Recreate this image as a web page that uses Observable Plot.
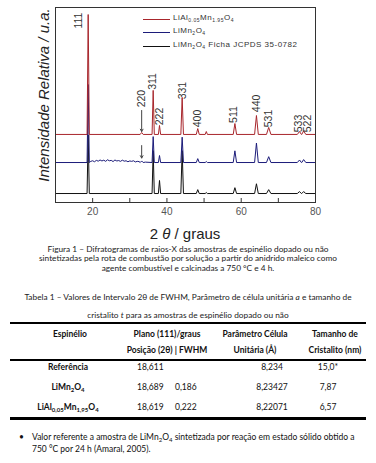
<!DOCTYPE html>
<html><head><meta charset="utf-8">
<script src="https://cdn.jsdelivr.net/npm/d3@7"></script>
<script src="https://cdn.jsdelivr.net/npm/@observablehq/plot@0.6"></script>
<style>
body{margin:0;background:#fff;}
#wrap{position:relative;width:376px;height:463px;overflow:hidden;background:#fff;font-family:"Liberation Sans",Arial,sans-serif;}
.abs{position:absolute;white-space:nowrap;}
.leg{font-size:8px;color:#333;letter-spacing:0.5px;}
.leg sub{font-size:5px;vertical-align:-2px;line-height:0;}
.cap{font-family:Lato,"Open Sans",sans-serif;font-size:8.3px;color:#222;text-align:center;width:376px;left:0;}
.tb{font-family:Lato,"Open Sans",sans-serif;font-size:8.5px;color:#111;}
.tb sub{font-size:6px;vertical-align:-2px;line-height:0;}
.hd{font-weight:bold;}
.rule{position:absolute;left:10px;width:356px;background:#000;}
</style></head><body><div id="wrap"></div>
<script>
// ---- data ----
const peakPos       = [18.8, 33.2, 36.3, 38.0, 44.1, 48.3, 50.6, 58.3, 64.1, 67.4, 75.7, 76.8];
const peakHalfWidth = [0.3,  0.4,  0.3,  0.3,  0.35, 0.4,  0.3,  0.45, 0.5,  0.6,  0.6,  0.6];
const redHeights    = [61.5, 1.0, 22.6, 4.6, 19.0, 3.0, 1.5, 5.6, 9.7, 3.6, 1.5, 1.8];
const blueHeights   = [40.0, 0.8, 13.3, 3.6, 13.0, 2.0, 0.5, 6.0, 10.0, 3.0, 1.3, 1.5];
const blackHeights  = [30.0, 0.0, 22.0, 6.7, 22.0, 2.0, 0.5, 3.0, 5.0, 2.0, 1.0, 1.0];
const redBase = 34.9, blueBase = 20.5, blackBase = 4.6;
const blueNoiseX = [19.5,20,20.5,21,21.5,22,22.5,23,23.5,24,24.5,25,25.5,26,26.5,27,27.5,28,28.5,29,29.5,30,30.5,31,31.5,32,32.5,34.2];
const blueNoiseY = [0.6,0.9,0.4,1.1,0.7,1.3,0.8,1.2,0.6,1.4,0.9,1.1,0.5,1.3,0.8,1.0,0.6,1.2,0.7,0.9,0.4,0.8,0.6,0.9,0.3,0.6,0.5,0.2];
const hklText = ["111","220","311","222","331","400","511","440","531","533","522"];
const hklX    = [16.2, 33.2, 36.1, 38.0, 44.2, 48.2, 57.9, 64.1, 67.3, 75.4, 77.8];
const hklY    = [93.3, 53.3, 62.1, 44.1, 57.4, 43.1, 45.1, 50.8, 43.1, 40.5, 40.5];
const arrowX  = [33.2, 33.2];
const arrowY1 = [47.2, 29.2];
const arrowY2 = [36.4, 22.8];
const xTicks = [20, 40, 60, 80];
const xMinor = [20, 30, 40, 50, 60, 70];
const legendNames = ["LiAl<sub>0.05</sub>Mn<sub>1.95</sub>O<sub>4</sub>", "LiMn<sub>2</sub>O<sub>4</sub>", "LiMn<sub>2</sub>O<sub>4</sub> Ficha JCPDS 35-0782"];
const yLabel = "Intensidade Relativa / u.a.";
const captionLines = [
  "Figura 1 – Difratogramas de raios-X das amostras de espinélio dopado ou não",
  "sintetizadas pela rota de combustão por solução a partir do anidrido maleico como",
  "agente combustível e calcinadas a 750 °C e 4 h."
];
const tableTitle = [
  "Tabela 1 – Valores de Intervalo 2θ de FWHM, Parâmetro de célula unitária <i>a</i> e tamanho de",
  "cristalito <i>t</i> para as amostras de espinélio dopado ou não"
];
const headRow1 = ["Espinélio", "Plano (111)/graus", "Parâmetro Célula", "Tamanho de"];
const headRow2 = ["", "Posição (2θ) | FWHM", "Unitária (Å)", "Cristalito (nm)"];
const rowNames = ["Referência", "LiMn<sub>2</sub>O<sub>4</sub>", "LiAl<sub>0,05</sub>Mn<sub>1,95</sub>O<sub>4</sub>"];
const posVals  = ["18,611", "18,689", "18,619"];
const fwhmVals = ["", "0,186", "0,222"];
const cellVals = ["8,234", "8,23427", "8,22071"];
const crystVals= ["15,0*", "7,87", "6,57"];
const footLines = [
  "Valor referente a amostra de LiMn<sub>2</sub>O<sub>4</sub> sintetizada por reação em estado sólido obtido a",
  "750 °C por 24 h (Amaral, 2005)."
];

// ---- build traces ----
function trace(base, heights, nx, ny) {
  const pts = [{x:10, y:base}, {x:80, y:base}];
  peakPos.forEach((p, i) => {
    if (heights[i] > 0) {
      const w = peakHalfWidth[i];
      pts.push({x:p-w, y:base}, {x:p, y:base+heights[i]}, {x:p+w, y:base});
    }
  });
  (nx || []).forEach((x, i) => pts.push({x, y: base + ny[i]}));
  return pts.sort((a, b) => a.x - b.x);
}
const blackPts = trace(blackBase, blackHeights);
const bluePts = trace(blueBase, blueHeights, blueNoiseX, blueNoiseY);
const redPts = trace(redBase, redHeights);
const labels = hklText.map((t, i) => ({t, x: hklX[i], y: hklY[i]}));
const arrows = arrowX.map((x, i) => ({x, y1: arrowY1[i], y2: arrowY2[i]}));

const wrap = document.getElementById("wrap");
const chart = Plot.plot({
  width: 376, height: 242,
  marginLeft: 55, marginRight: 61, marginTop: 7, marginBottom: 40,
  x: {domain: [10, 80]},
  y: {domain: [0, 100], axis: null},
  style: {fontFamily: "'Liberation Sans', Arial, sans-serif", fontSize: "10px", color: "#555", background: "#fff"},
  marks: [
    Plot.line(blackPts, {x: "x", y: "y", stroke: "#111", strokeWidth: 1}),
    Plot.line(bluePts, {x: "x", y: "y", stroke: "#1c1c7a", strokeWidth: 1}),
    Plot.line(redPts, {x: "x", y: "y", stroke: "#a8262c", strokeWidth: 1}),
    Plot.arrow(arrows, {x: "x", y1: "y1", y2: "y2", stroke: "#444", strokeWidth: 1, headLength: 4}),
    Plot.text(labels, {x: "x", y: "y", text: "t", rotate: -90, fontSize: 10.5, fill: "#333"}),
    Plot.frame({stroke: "#333"}),
    Plot.tickX(xMinor, {x: d => d, insetTop: 191, stroke: "#333"}),
    Plot.axisX({ticks: xTicks, tickSize: 0, tickPadding: 5, label: null}),
    Plot.text([yLabel], {frameAnchor: "left", textAnchor: "middle", text: d => d, rotate: -90, dx: -11, dy: -10, fontStyle: "italic", fontSize: 15, fill: "#222"})
  ]
});
chart.style.position = "absolute";
chart.style.left = "0px";
chart.style.top = "0px";
wrap.appendChild(chart);

function add(html, cls, left, top, extra) {
  const d = document.createElement("div");
  d.className = "abs " + cls;
  d.innerHTML = html;
  d.style.left = left + "px";
  d.style.top = top + "px";
  if (extra) Object.assign(d.style, extra);
  wrap.appendChild(d);
  return d;
}
// legend
const legColors = ["#a8262c", "#1c1c7a", "#111"];
const legY = [19, 32, 46];
legendNames.forEach((n, i) => {
  add("", "", 143, legY[i], {width: "27px", height: "1px", background: legColors[i]});
  add(n, "leg", 173, legY[i] - 6);
});
// x label
add("2 <i>θ</i> / graus", "", 55, 225, {width: "260px", textAlign: "center", fontSize: "15px", color: "#222"});
// caption
captionLines.forEach((l, i) => add(l, "cap", 0, 244 + i * 9.3, {}));
tableTitle.forEach((l, i) => add(l, "cap", 0, 292 + i * 18, {}));
// table rules
[[322, 2], [359, 2], [417, 2.5]].forEach(([y, h]) => {
  const r = document.createElement("div"); r.className = "rule";
  r.style.top = y + "px"; r.style.height = h + "px"; wrap.appendChild(r);
});
function cell(html, cx, cy, cls, align) {
  const d = add(html, "tb " + (cls || ""), 0, cy - 6, {width: "120px", textAlign: align || "center"});
  d.style.left = (align === "left" ? cx : cx - 60) + "px";
}
const colC = [70, 167, 255, 335];
headRow1.forEach((h, i) => cell(h, colC[i], 335, "hd"));
headRow2.forEach((h, i) => cell(h, colC[i], 351, "hd"));
const rowY = [368, 388, 408];
rowNames.forEach((n, i) => {
  cell(n, 68, rowY[i], "hd");
  cell(posVals[i], 137, rowY[i], "", "left");
  cell(fwhmVals[i], 175, rowY[i], "", "left");
  cell(cellVals[i], 272, rowY[i]);
  cell(crystVals[i], 328, rowY[i]);
});
// footnote
add("•", "tb", 19, 432);
footLines.forEach((l, i) => add(l, "tb", 32, 432 + i * 12));
</script></body></html>
